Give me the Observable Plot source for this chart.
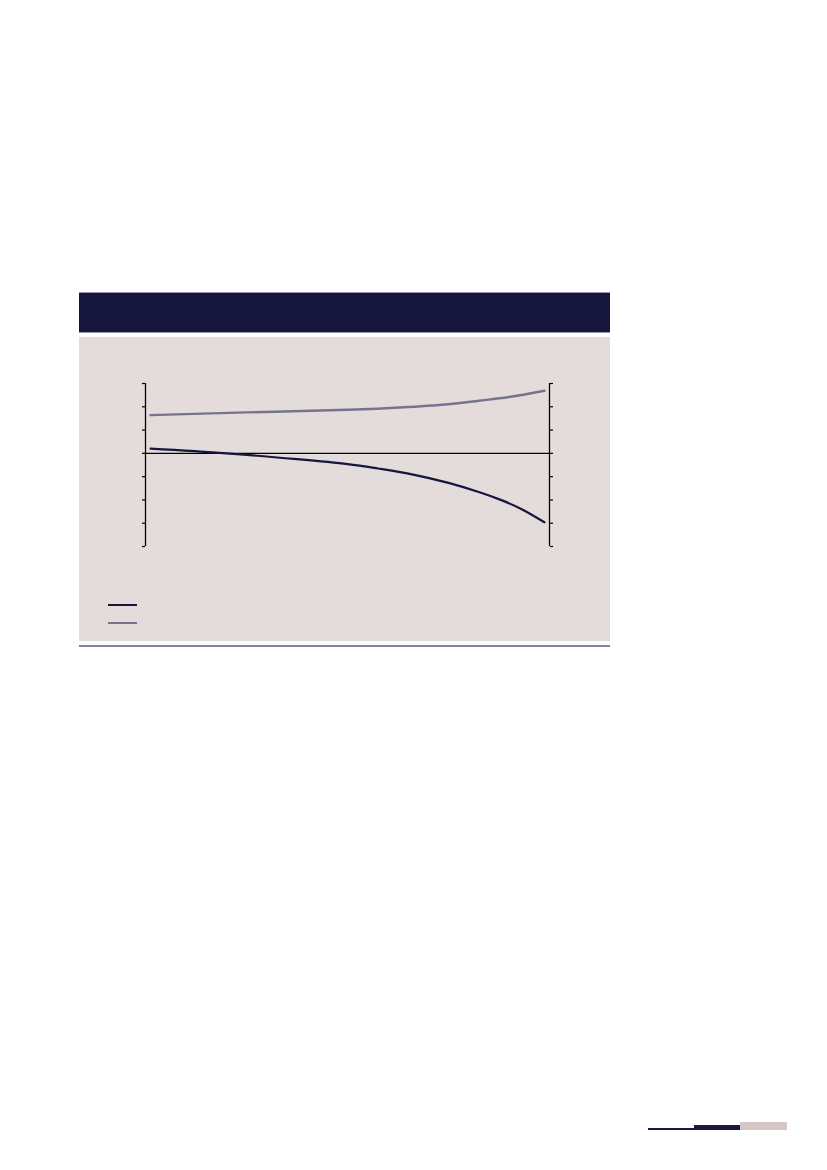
<!DOCTYPE html>
<html>
<head>
<meta charset="utf-8">
<script src="https://cdn.jsdelivr.net/npm/d3@7"></script>
<script src="https://cdn.jsdelivr.net/npm/@observablehq/plot@0.6"></script>
<style>
  html, body { margin: 0; padding: 0; background: #ffffff; }
  body { width: 827px; height: 1170px; position: relative; overflow: hidden; font-family: "Noto Sans", sans-serif; }
  .header { position: absolute; left: 79px; top: 292px; width: 531px; height: 41px; background: #16163d; border: 1px solid #9a99b0; border-left: none; border-right: none; box-sizing: border-box; }
  .panel { position: absolute; left: 79px; top: 337px; width: 531px; height: 304px; background: #e3dcda; }
  .bottomrule { position: absolute; left: 79px; top: 645px; width: 531px; height: 2px; background: #84839c; }
  #chart { position: absolute; left: 0; top: 0; }
  .leg { position: absolute; left: 29px; width: 29px; height: 2px; }
  .deco { position: absolute; }
</style>
</head>
<body>
<div class="header"></div>
<div class="panel">
  <div id="chart"></div>
  <div class="leg" style="top:267px;background:#16163d;"></div>
  <div class="leg" style="top:285px;background:#75748f;"></div>
</div>
<div class="bottomrule"></div>
<div class="deco" style="left:648px;top:1128px;width:46px;height:2px;background:#1a1a3e;"></div>
<div class="deco" style="left:694px;top:1125px;width:46px;height:5px;background:#1a1a3e;"></div>
<div class="deco" style="left:740px;top:1122px;width:47px;height:8px;background:#d5c6c6;"></div>
<script>
// Data (x: position along the horizontal span 0–40; y: value in axis units)
const seriesNames = ["Series A", "Series B"];
const darkX = [0.5, 8, 15, 20, 23, 26.5, 30, 33, 35.3, 37.3, 39.5];
const darkY = [0.2, 0.0, -0.25, -0.46, -0.65, -0.91, -1.27, -1.66, -2.02, -2.41, -2.96];
const lightX = [0.5, 10, 20, 26, 30, 33, 36, 39.5];
const lightY = [1.64, 1.76, 1.87, 1.99, 2.11, 2.26, 2.42, 2.69];
const yTicks = [-4, -3, -2, -1, 0, 1, 2, 3];
const xDomain = [0, 40];

const dark = darkX.map((x, i) => ({x, y: darkY[i], s: seriesNames[0]}));
const light = lightX.map((x, i) => ({x, y: lightY[i], s: seriesNames[1]}));

const chart = Plot.plot({
  width: 531,
  height: 240,
  marginLeft: 66,
  marginRight: 61,
  marginTop: 46,
  marginBottom: 31,
  style: { background: "transparent", overflow: "visible" },
  x: { domain: xDomain, axis: null },
  y: { domain: [-4, 3], axis: null },
  marks: [
    Plot.axisY({ anchor: "left", ticks: yTicks, tickSize: 3, tickFormat: () => "", label: null, stroke: "#000", strokeWidth: 1.2 }),
    Plot.axisY({ anchor: "right", ticks: yTicks, tickSize: 3, tickFormat: () => "", label: null, stroke: "#000", strokeWidth: 1.2 }),
    Plot.ruleX(xDomain, { y1: -4, y2: 3, stroke: "#000", strokeWidth: 1.3 }),
    Plot.ruleY([0], { stroke: "#000", strokeWidth: 1.3 }),
    Plot.line(light, { x: "x", y: "y", curve: "natural", stroke: "#75748f", strokeWidth: 2.4 }),
    Plot.line(dark, { x: "x", y: "y", curve: "natural", stroke: "#16163d", strokeWidth: 2.2 })
  ]
});
document.getElementById("chart").appendChild(chart);
</script>
</body>
</html>
